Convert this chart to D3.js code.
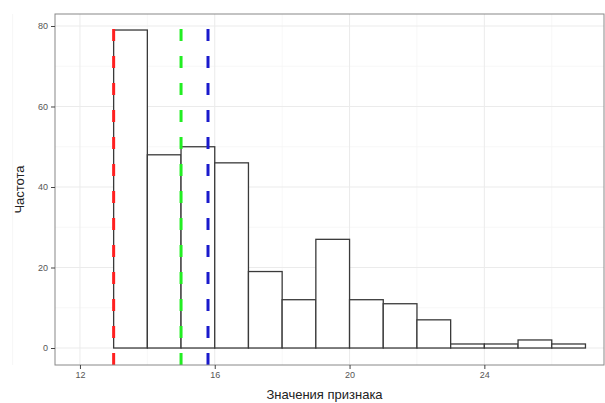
<!DOCTYPE html>
<html>
<head>
<meta charset="utf-8">
<script src="https://cdn.jsdelivr.net/npm/d3@7"></script>
<style>
  body { margin: 0; background: #fff; }
  svg { display: block; font-family: "Liberation Sans", Arial, sans-serif; }
</style>
</head>
<body>
<div id="chart"></div>
<script>
// histogram bins (left edges, width 1) and counts
const binStarts = [12, 13, 14, 15, 16, 17, 18, 19, 20, 21, 22, 23, 24, 25, 26];
const counts = [0, 79, 48, 50, 46, 19, 12, 27, 12, 11, 7, 1, 1, 2, 1];
const binWidth = 1;
// reference lines: min, median, mean
const lineValues = [13, 15, 15.8];
const lineColors = ["#ff2020", "#22ee22", "#1a1acc"];
const xTicks = [12, 16, 20, 24];
const yTicks = [0, 20, 40, 60, 80];

const width = 605, height = 403;
const panel = { left: 55, top: 14, right: 604, bottom: 365 };

const svg = d3.select("#chart").append("svg")
    .attr("width", width)
    .attr("height", height);

const x = d3.scaleLinear().domain([11.26, 27.55]).range([panel.left, panel.right]);
const y = d3.scaleLinear().domain([-4.22, 82.98]).range([panel.bottom, panel.top]);

// grid
const minorX = d3.range(10, 30, 2).filter(v => !xTicks.includes(v));
const minorY = d3.range(10, 90, 20);
const grid = svg.append("g");
grid.selectAll(".mx").data(minorX).join("line")
    .attr("x1", d => x(d)).attr("x2", d => x(d))
    .attr("y1", panel.top).attr("y2", panel.bottom)
    .attr("stroke", "#f5f5f5").attr("stroke-width", 0.8);
grid.selectAll(".my").data(minorY).join("line")
    .attr("x1", panel.left).attr("x2", panel.right)
    .attr("y1", d => y(d)).attr("y2", d => y(d))
    .attr("stroke", "#f5f5f5").attr("stroke-width", 0.8);
grid.selectAll(".gx").data(xTicks).join("line")
    .attr("x1", d => x(d)).attr("x2", d => x(d))
    .attr("y1", panel.top).attr("y2", panel.bottom)
    .attr("stroke", "#ebebeb").attr("stroke-width", 1);
grid.selectAll(".gy").data(yTicks).join("line")
    .attr("x1", panel.left).attr("x2", panel.right)
    .attr("y1", d => y(d)).attr("y2", d => y(d))
    .attr("stroke", "#ebebeb").attr("stroke-width", 1);

// bars
svg.append("g").selectAll("rect")
    .data(binStarts.map((s, i) => ({ s, c: counts[i] })))
    .join("rect")
    .attr("x", d => x(d.s))
    .attr("width", d => x(d.s + binWidth) - x(d.s))
    .attr("y", d => y(d.c))
    .attr("height", d => y(0) - y(d.c))
    .attr("fill", "#fff")
    .attr("stroke", "#3a3a3a")
    .attr("stroke-width", 1.3);

// vertical dashed lines
svg.append("g").selectAll("line")
    .data(lineValues)
    .join("line")
    .attr("x1", d => x(d)).attr("x2", d => x(d))
    .attr("y1", panel.bottom).attr("y2", panel.top)
    .attr("stroke", (d, i) => lineColors[i])
    .attr("stroke-width", 3)
    .attr("stroke-dasharray", "12,15");

// panel border
svg.append("rect")
    .attr("x", panel.left).attr("y", panel.top)
    .attr("width", panel.right - panel.left)
    .attr("height", panel.bottom - panel.top)
    .attr("fill", "none")
    .attr("stroke", "#888")
    .attr("stroke-width", 1);

// axes
const xAxis = svg.append("g")
    .attr("transform", `translate(0,${panel.bottom})`)
    .call(d3.axisBottom(x).tickValues(xTicks).tickSize(4).tickPadding(3));
const yAxis = svg.append("g")
    .attr("transform", `translate(${panel.left},0)`)
    .call(d3.axisLeft(y).tickValues(yTicks).tickSize(4).tickPadding(3));
[xAxis, yAxis].forEach(a => {
    a.select(".domain").remove();
    a.selectAll(".tick line").attr("stroke", "#444");
    a.selectAll(".tick text").attr("fill", "#555").attr("font-size", 9);
});

// axis titles
svg.append("text")
    .attr("x", (panel.left + panel.right) / 2 - 5)
    .attr("y", 399)
    .attr("text-anchor", "middle")
    .attr("font-size", 13)
    .attr("fill", "#222")
    .text("Значения признака");
svg.append("text")
    .attr("transform", `translate(24,${(panel.top + panel.bottom) / 2}) rotate(-90)`)
    .attr("text-anchor", "middle")
    .attr("font-size", 13)
    .attr("fill", "#222")
    .text("Частота");
</script>
</body>
</html>
